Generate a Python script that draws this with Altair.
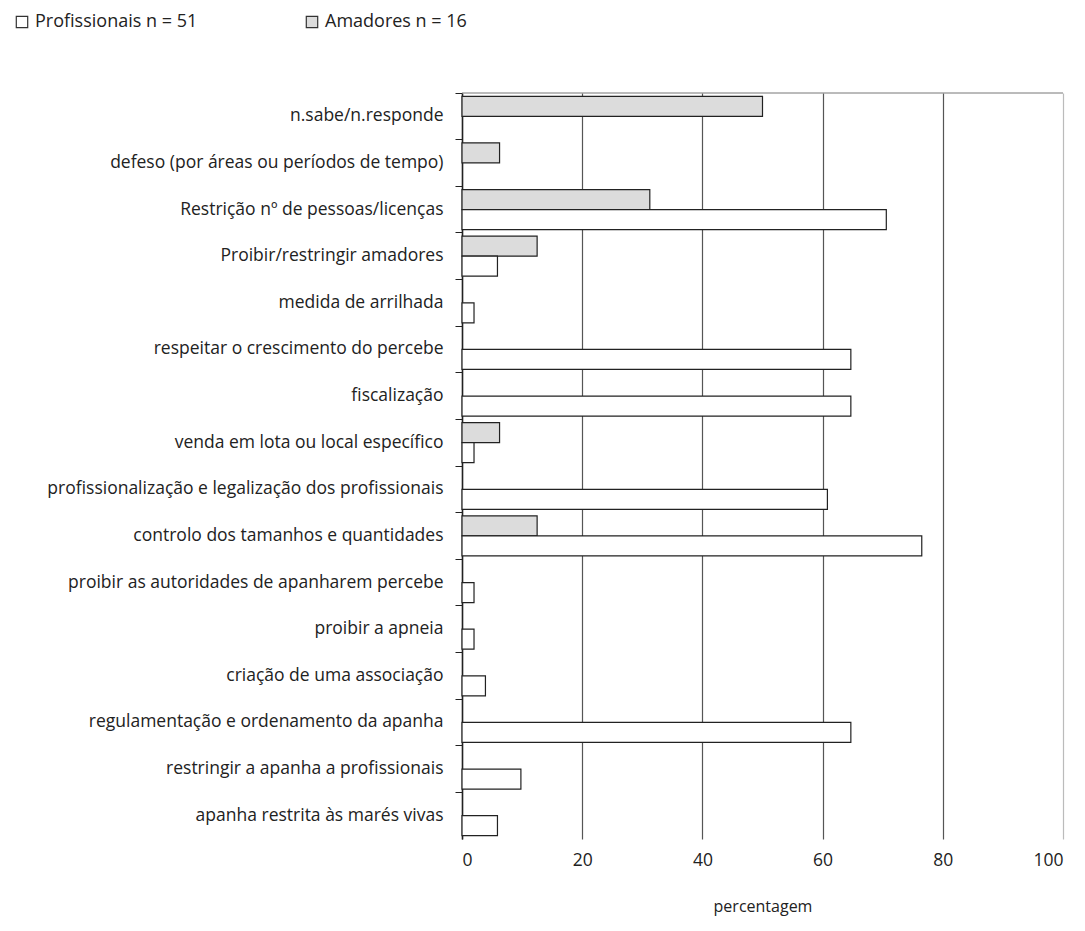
import altair as alt
import pandas as pd

categories = [
    "n.sabe/n.responde",
    "defeso (por áreas ou períodos de tempo)",
    "Restrição nº de pessoas/licenças",
    "Proibir/restringir amadores",
    "medida de arrilhada",
    "respeitar o crescimento do percebe",
    "fiscalização",
    "venda em lota ou local específico",
    "profissionalização e legalização dos profissionais",
    "controlo dos tamanhos e quantidades",
    "proibir as autoridades de apanharem percebe",
    "proibir a apneia",
    "criação de uma associação",
    "regulamentação e ordenamento da apanha",
    "restringir a apanha a profissionais",
    "apanha restrita às marés vivas",
]
amadores = [50.0, 6.25, 31.25, 12.5, 0, 0, 0, 6.25, 0, 12.5, 0, 0, 0, 0, 0, 0]
profissionais = [0, 0, 70.6, 5.9, 2.0, 64.7, 64.7, 2.0, 60.8, 76.5, 2.0, 2.0, 3.9, 64.7, 9.8, 5.9]
series_names = ["Profissionais n = 51", "Amadores n = 16"]
series_fill = ["#ffffff", "#dcdcdc"]
x_ticks = [0, 20, 40, 60, 80, 100]

rows = []
for c, a, p in zip(categories, amadores, profissionais):
    rows.append({"cat": c, "serie": series_names[1], "val": a})
    rows.append({"cat": c, "serie": series_names[0], "val": p})
df = pd.DataFrame(rows)
df = df[df["val"] > 0]

W, H = 601, 746
FONT = "Open Sans"

bars = alt.Chart(df).mark_bar(stroke="#222222", strokeWidth=1.2).encode(
    x=alt.X("val:Q", scale=alt.Scale(domain=[0, 100], nice=False),
            axis=alt.Axis(values=x_ticks, title="percentagem", grid=True,
                          gridColor=alt.condition("datum.value == 100", alt.value("#bbbbbb"), alt.value("#555555")),
                          gridWidth=1.2, domain=False, ticks=False,
                          labelFontSize=17.5, labelPadding=12, labelColor="#222222",
                          titleFontSize=16, titleFontWeight="normal", titleColor="#222222",
                          titlePadding=30, labelFont=FONT, titleFont=FONT)),
    y=alt.Y("cat:N", sort=categories,
            scale=alt.Scale(paddingInner=0, paddingOuter=0),
            axis=alt.Axis(title=None, bandPosition=0,
                          domainColor="#222222", domainWidth=1.5,
                          tickColor="#222222", tickSize=7, tickWidth=1,
                          labelFontSize=17.5, labelColor="#222222", labelFont=FONT,
                          labelLimit=460, labelPadding=12,
                          minExtent=449, maxExtent=449)),
    yOffset=alt.YOffset("serie:N", sort=[series_names[1], series_names[0]],
                        scale=alt.Scale(paddingOuter=0.165, paddingInner=0)),
    color=alt.Color("serie:N",
                    scale=alt.Scale(domain=series_names, range=series_fill),
                    legend=alt.Legend(title=None, orient="none", direction="horizontal",
                                      legendX=-449, legendY=-80,
                                      symbolType="square", symbolSize=130,
                                      symbolStrokeColor="#333333", symbolStrokeWidth=1.2,
                                      labelFontSize=18, labelFont=FONT, labelColor="#222222",
                                      labelLimit=300,
                                      columnPadding=105, symbolOffset=0)),
)

top_line = alt.Chart(pd.DataFrame({"a": [0]})).mark_rule(color="#777777", strokeWidth=1).encode(
    x=alt.value(0), x2=alt.value(W), y=alt.value(0)
)

chart = alt.layer(bars, top_line).properties(width=W, height=H).configure_view(stroke=None)

chart.save("out.html", embed_options={"renderer": "svg", "actions": False})
